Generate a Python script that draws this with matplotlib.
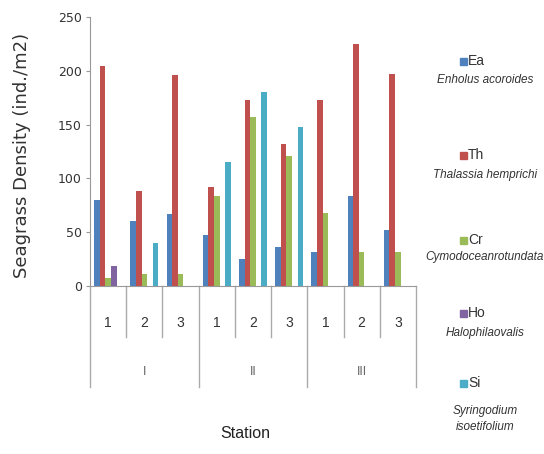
import numpy as np
import matplotlib
matplotlib.use("Agg")
import matplotlib.pyplot as plt
from matplotlib.patches import Rectangle

# data
stations = ["I", "II", "III"]
subs = ["1", "2", "3"]
codes = ["Ea", "Th", "Cr", "Ho", "Si"]
species = ["Enholus acoroides", "Thalassia hemprichi", "Cymodoceanrotundata",
           "Halophilaovalis", "Syringodium\nisoetifolium"]
colors = ["#4F81BD", "#C0504D", "#9BBB59", "#8064A2", "#4BACC6"]

Ea = [80, 60, 67, 47, 25, 36, 32, 84, 52]
Th = [204, 88, 196, 92, 173, 132, 173, 225, 197]
Cr = [7, 11, 11, 84, 157, 121, 68, 32, 32]
Ho = [19, 0, 0, 0, 0, 0, 0, 0, 0]
Si = [0, 40, 0, 115, 180, 148, 0, 0, 0]
series = [Ea, Th, Cr, Ho, Si]

W, H = 544, 454
fig = plt.figure(figsize=(W / 100, H / 100), dpi=100)
ax = fig.add_axes([90 / W, 1 - 286 / H, (416 - 90) / W, (286 - 17) / H])

x = np.arange(9)
bw = 0.155
for i, s in enumerate(series):
    ax.bar(x + (i - 2) * bw, s, width=bw, color=colors[i], zorder=2)

ax.set_xlim(-0.5, 8.5)
ax.set_ylim(0, 250)
ax.set_yticks(range(0, 251, 50))
ax.tick_params(axis="y", length=3, color="#999999", labelsize=9, labelcolor="#333333", pad=3)
for lab in ax.get_yticklabels():
    lab.set_family("Liberation Sans Narrow")
ax.set_xticks([])
for sp in ["top", "right"]:
    ax.spines[sp].set_visible(False)
ax.spines["left"].set_color("#999999")
ax.spines["bottom"].set_color("#999999")

# multi level category axis
tr = ax.get_xaxis_transform()
for k in range(10):
    bottom = -0.375 if k % 3 == 0 else -0.19
    ax.plot([k - 0.5, k - 0.5], [0, bottom], transform=tr, color="#aaaaaa",
            lw=1, clip_on=False)
for k in range(9):
    ax.text(k, -0.138, subs[k % 3], transform=tr, ha="center", va="center",
            fontsize=10, color="#333333", family="Liberation Sans")
for g in range(3):
    ax.text(g * 3 + 1, -0.32, stations[g], transform=tr, ha="center", va="center",
            fontsize=9, color="#666666", family="Liberation Sans")

fig.text(245 / W, 1 - 433 / H, "Station", ha="center", va="center",
         fontsize=11.5, color="#222222", family="Liberation Sans")
fig.text(22 / W, 1 - 155 / H, "Seagrass Density (ind./m2)", rotation=90,
         ha="center", va="center", fontsize=13, color="#333333", family="DejaVu Sans")

# legend drawn by hand: code over species name
code_y = [61, 155, 240, 313, 383]
name_y = [80, 175, 257, 333, 419]
for i in range(5):
    fig.patches.append(Rectangle(((463 - 3.5) / W, 1 - (code_y[i] + 3.5) / H), 7 / W, 7 / H,
                                 transform=fig.transFigure, color=colors[i]))
    fig.text(468 / W, 1 - code_y[i] / H, codes[i], ha="left", va="center",
             fontsize=10, color="#333333", family="Liberation Sans")
    fig.text(485 / W, 1 - name_y[i] / H, species[i], ha="center", va="center",
             fontsize=8.5, style="italic", color="#333333", family="Liberation Sans",
             linespacing=1.5)

fig.savefig("out.png", dpi=100)
